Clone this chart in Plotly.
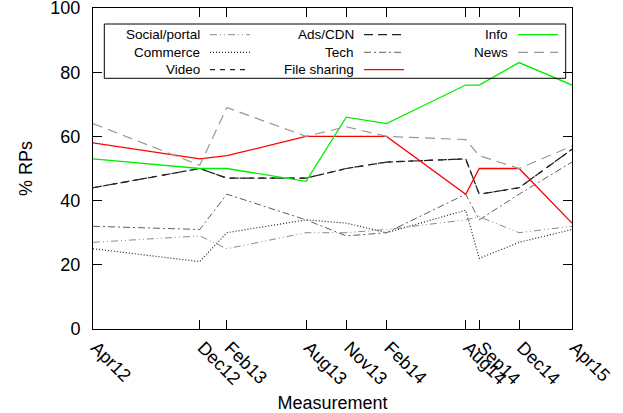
import plotly.graph_objects as go

# ---- data ----
dates = ["2012-04-01", "2012-12-01", "2013-02-01", "2013-08-01", "2013-11-01",
         "2014-02-01", "2014-08-01", "2014-09-01", "2014-12-01", "2015-04-01"]
tick_labels = ["Apr12", "Dec12", "Feb13", "Aug13", "Nov13",
               "Feb14", "Aug14", "Sep14", "Dec14", "Apr15"]
y_ticks = [0, 20, 40, 60, 80, 100]

series_names = ["Social/portal", "Commerce", "Video", "Ads/CDN", "Tech",
                "File sharing", "Info", "News"]
social_portal = [27, 29, 25, 30, 30, 31, 34, 35, 30, 32]
commerce = [25, 21, 30, 34, 33, 30, 37, 22, 27, 31]
video = [44, 50, 47, 47, 50, 52, 53, 42, 44, 56]
ads_cdn = [44, 50, 47, 47, 50, 52, 53, 42, 44, 56]
tech = [32, 31, 42, 34, 29, 30, 42, 34, 42, 52]
file_sharing = [58, 53, 54, 60, 60, 60, 42, 50, 50, 33]
info = [53, 50, 50, 46, 66, 64, 76, 76, 83, 76]
news = [64, 51, 69, 60, 63, 60, 59, 54, 50, 57]

values = {
    "Social/portal": social_portal,
    "Commerce": commerce,
    "Video": video,
    "Ads/CDN": ads_cdn,
    "Tech": tech,
    "File sharing": file_sharing,
    "Info": info,
    "News": news,
}

styles = {
    "Social/portal": dict(color="#8a8a8a", dash="7px,3px,1px,3px,1px,3px", width=1),
    "Commerce": dict(color="#222222", dash="1px,2px", width=1.2),
    "Video": dict(color="#222222", dash="5px,5px", width=1.2),
    "Ads/CDN": dict(color="#222222", dash="9px,5px", width=1.2),
    "Tech": dict(color="#5e5e5e", dash="7px,3px,2px,3px", width=1),
    "File sharing": dict(color="#ff0000", dash="solid", width=1.3),
    "Info": dict(color="#00ee00", dash="solid", width=1.3),
    "News": dict(color="#999999", dash="10px,6px", width=1.2),
}

FONT = "Liberation Sans, Arial, sans-serif"
W, H = 623, 413
ML, MR, MT, MB = 93, 51, 8, 84
PW, PH = W - ML - MR, H - MT - MB

def px_x(px):
    return (px - ML) / PW

def px_y(py):
    return 1 - (py - MT) / PH

fig = go.Figure()
for name in series_names:
    st = styles[name]
    fig.add_trace(go.Scatter(
        x=dates, y=values[name], mode="lines", name=name,
        line=dict(color=st["color"], dash=st["dash"], width=st["width"]),
        showlegend=False, hoverinfo="skip",
    ))

# ---- gnuplot-style key (text right-aligned, sample to the right) ----
shapes = []
annotations = []
text_right = [202, 356, 510]
row_y = [34.7, 52.3, 69.7]
for i, name in enumerate(series_names):
    col, row = i // 3, i % 3
    st = styles[name]
    tx = text_right[col]
    ty = row_y[row]
    annotations.append(dict(
        x=px_x(tx), y=px_y(ty), xref="paper", yref="paper",
        text=name, showarrow=False, xanchor="right", yanchor="middle",
        font=dict(family=FONT, size=13.5, color="black"),
    ))
    shapes.append(dict(
        type="line", xref="paper", yref="paper",
        x0=px_x(tx + 8), x1=px_x(tx + 48), y0=px_y(ty), y1=px_y(ty),
        line=dict(color=st["color"], dash=st["dash"], width=st["width"]),
    ))
shapes.append(dict(
    type="rect", xref="paper", yref="paper",
    x0=px_x(104.3), x1=px_x(565.7), y0=px_y(78.3), y1=px_y(24),
    line=dict(color="black", width=1), fillcolor="rgba(0,0,0,0)",
))

fig.update_layout(
    width=W, height=H, autosize=False,
    margin=dict(l=ML, r=MR, t=MT, b=MB, pad=0, autoexpand=False),
    paper_bgcolor="white", plot_bgcolor="white",
    font=dict(family=FONT, size=18, color="black"),
    shapes=shapes, annotations=annotations,
    showlegend=False,
)
fig.update_xaxes(
    type="date", range=[dates[0], dates[-1]],
    tickmode="array", tickvals=dates, ticktext=tick_labels,
    tickangle=45, ticks="inside", ticklen=9, tickcolor="black", tickwidth=1,
    showline=True, linecolor="black", linewidth=1, mirror="ticks",
    showgrid=False, zeroline=False, automargin=False,
    tickfont=dict(family=FONT, size=18),
    ticklabelstandoff=0, ticklabelshift=3, ticklabeloverflow="allow",
    title=dict(text="Measurement", font=dict(family=FONT, size=18), standoff=8),
)
fig.update_yaxes(
    range=[0, 100], tickmode="array", tickvals=y_ticks,
    ticks="inside", ticklen=9, tickcolor="black", tickwidth=1,
    showline=True, linecolor="black", linewidth=1, mirror="ticks",
    showgrid=False, zeroline=False, automargin=False,
    tickfont=dict(family=FONT, size=18),
    ticklabelstandoff=8, ticklabeloverflow="allow",
    title=dict(text="% RPs", font=dict(family=FONT, size=18), standoff=13),
)

fig.write_html(
    "out.html",
    config={"displayModeBar": False, "staticPlot": True},
    post_script="document.body.style.margin='0';document.body.style.overflow='hidden';",
)
